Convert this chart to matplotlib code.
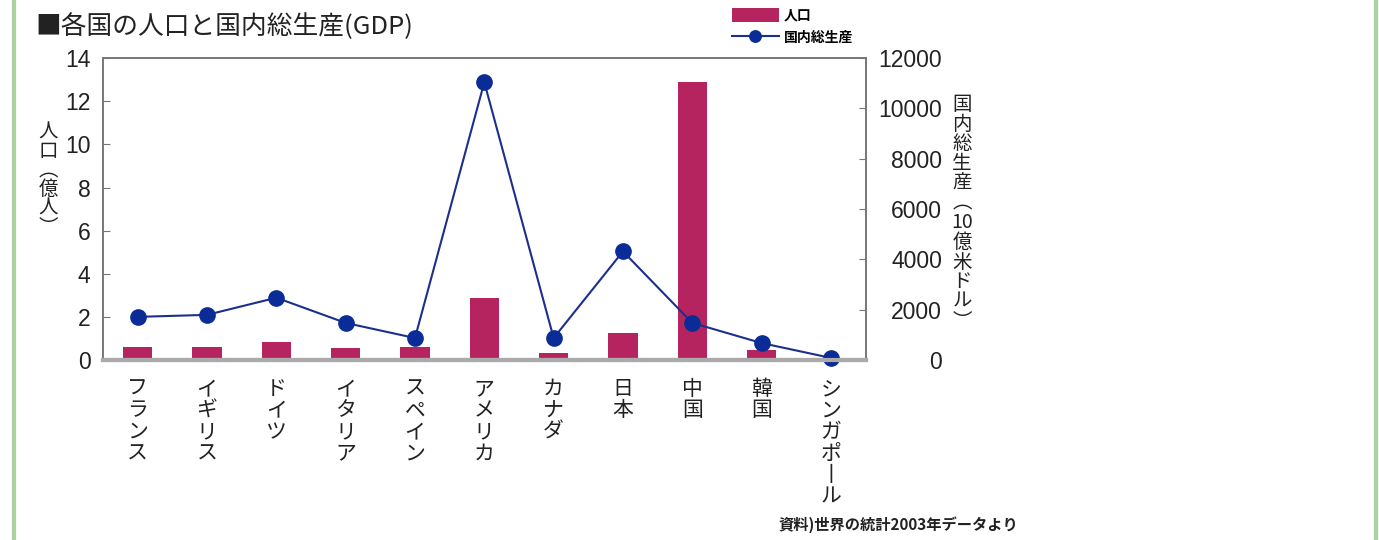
import matplotlib.pyplot as plt
import matplotlib.transforms as mtransforms
from matplotlib.lines import Line2D

plt.rcParams['font.family'] = ['Noto Sans CJK JP', 'DejaVu Sans']

# データ (資料: 世界の統計2003年)
kuni = ['フランス', 'イギリス', 'ドイツ', 'イタリア', 'スペイン', 'アメリカ',
        'カナダ', '日本', '中国', '韓国', 'シンガポール']
jinko = [0.6, 0.6, 0.82, 0.58, 0.6, 2.9, 0.31, 1.27, 12.9, 0.48, 0.04]
gdp = [1720, 1800, 2480, 1480, 880, 11040, 880, 4320, 1480, 680, 90]

bar_color = '#b5245f'
line_color = '#1c2f8c'
marker_color = '#0b2c96'
text_color = '#222222'
num_font = ['Liberation Sans', 'Noto Sans CJK JP']

# 縦書きで向きを変える文字
tate_map = {'(': '︵', ')': '︶', 'ー': '丨'}


def tate_units(s):
    units = []
    i = 0
    while i < len(s):
        if s[i].isdigit():
            j = i
            while j < len(s) and s[j].isdigit():
                j += 1
            units.append(s[i:j])
            i = j
        else:
            units.append(tate_map.get(s[i], s[i]))
            i += 1
    return units


def tate_text(fig, x, y, trans, s, step, size):
    # 縦書き: 1文字ずつ下に並べる
    for k, u in enumerate(tate_units(s)):
        t = mtransforms.offset_copy(trans, fig=fig, x=0, y=-k * step, units='dots')
        fig.text(x, y, u, transform=t, ha='center', va='top',
                 fontsize=size, color=text_color)


fig = plt.figure(figsize=(13.79, 5.4), dpi=100)
ax = fig.add_axes([0.0747, 0.333, 0.553, 0.5595])
ax2 = ax.twinx()

x = list(range(len(kuni)))
b = ax.bar(x, jinko, width=0.42, color=bar_color, zorder=2)
ln, = ax2.plot(x, gdp, color=line_color, lw=1.5, marker='o', markersize=11,
               markerfacecolor=marker_color, markeredgecolor=marker_color, clip_on=False)

ax.set_xlim(-0.5, len(kuni) - 0.5)
ax.set_ylim(0, 14)
ax.set_yticks(range(0, 15, 2))
ax2.set_ylim(0, 12000)
ax2.set_yticks(range(0, 12001, 2000))
ax.set_xticks([])

for a in (ax, ax2):
    for sp in a.spines.values():
        sp.set_color('#777777')
        sp.set_linewidth(1.2)
    a.spines['bottom'].set_color('#aaaaaa')
    a.spines['bottom'].set_linewidth(3)

ax.tick_params(axis='y', direction='in', length=5, pad=9, labelsize=16.5,
               colors='#777777', labelcolor=text_color)
ax2.tick_params(axis='y', direction='in', length=5, pad=55, labelsize=16.5,
                colors='#777777', labelcolor=text_color)
for lab in ax.get_yticklabels() + ax2.get_yticklabels():
    lab.set_family(num_font)
for lab in ax2.get_yticklabels():
    lab.set_ha('right')

# カテゴリ名 (縦書き)
tr = mtransforms.blended_transform_factory(ax.transData, fig.transFigure)
for i, name in enumerate(kuni):
    tate_text(fig, i, 1 - 378 / 540, tr, name, 21.5, 15)

# 軸ラベル (縦書き)
tate_text(fig, 48 / 1379, 1 - 122 / 540, fig.transFigure, '人口(億人)', 19, 14)
tate_text(fig, 962 / 1379, 1 - 94 / 540, fig.transFigure, '国内総生産(10億米ドル)', 19.7, 14)

# タイトル
fig.text(35 / 1379, 1 - 27 / 540, '■各国の人口と国内総生産(GDP)', fontsize=18.5,
         va='center', ha='left', color=text_color, family=num_font[::-1])

# 凡例
leg = fig.legend([b, ln], ['人口', '国内総生産'], loc='upper left',
                 bbox_to_anchor=(724 / 1379, 1.0), frameon=False, fontsize=10,
                 handlelength=3.4, handleheight=1.2, handletextpad=0.35,
                 labelspacing=0.55, borderaxespad=0.15, markerscale=0.75)
for t in leg.get_texts():
    t.set_fontweight('bold')

# 出典
fig.text(778 / 1379, 1 - 525 / 540, '資料)世界の統計2003年データより', fontsize=11,
         ha='left', va='center', color=text_color, fontweight='bold')

# 緑の枠線
for xp in (14 / 1379, 1376 / 1379):
    fig.add_artist(Line2D([xp, xp], [0, 1], color='#a9d39f', lw=3, transform=fig.transFigure))

fig.savefig('out.png', dpi=100)
